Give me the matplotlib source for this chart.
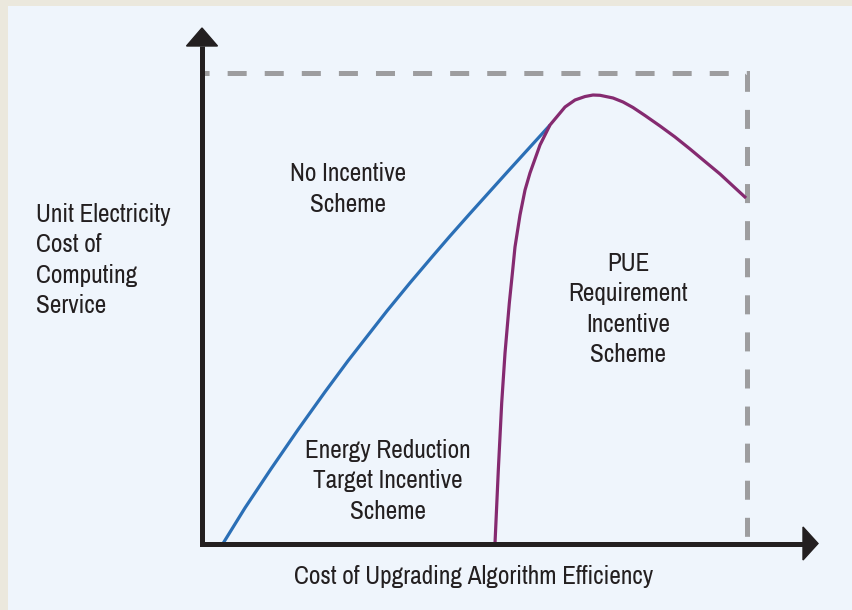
import os
import matplotlib
matplotlib.use("Agg")
import matplotlib.pyplot as plt
from matplotlib.patches import Rectangle, Polygon
from matplotlib import font_manager as fm

plt.rcParams['lines.scale_dashes'] = False

# Curve data (x: cost of upgrading, y: unit electricity cost), normalised 0..1
blue_x = [0.0385, 0.0789, 0.1266, 0.1761, 0.2257, 0.2679, 0.3394, 0.3817, 0.4239,
          0.4550, 0.4917, 0.5596, 0.6385]
blue_y = [0.0, 0.0756, 0.1584, 0.2416, 0.3219, 0.3879, 0.4938, 0.5535, 0.6110,
          0.6527, 0.7006, 0.7879, 0.8883]

purple_x = [0.5376, 0.5437, 0.5499, 0.5560, 0.5639, 0.5701, 0.5743, 0.5835, 0.5927,
            0.6018, 0.6202, 0.6385, 0.6569, 0.6661, 0.6844, 0.7028, 0.7174, 0.7303,
            0.7541, 0.7725, 0.7908, 0.8128, 0.8404, 0.8679, 0.8954, 0.9229, 0.9505,
            0.9743, 0.9982]
purple_y = [0.0, 0.156, 0.2983, 0.4045, 0.5106, 0.5807, 0.6295, 0.6975, 0.7505,
            0.7866, 0.8461, 0.8885, 0.9140, 0.9268, 0.9416, 0.9490, 0.9522, 0.9516,
            0.9459, 0.9374, 0.9257, 0.9087, 0.8864, 0.8631, 0.8376, 0.8110, 0.7845,
            0.7590, 0.7335]

box_x = [0.0, 1.0, 1.0]
box_y = [1.0, 1.0, 0.0]

y_label = "Unit Electricity\nCost of\nComputing\nService"
x_label = "Cost of Upgrading Algorithm Efficiency"
region_labels = ["No Incentive\nScheme", "PUE\nRequirement\nIncentive\nScheme",
                 "Energy Reduction\nTarget Incentive\nScheme"]

# pick a narrow/condensed regular font if one is installed
def find_narrow():
    prefs = []
    for f in fm.fontManager.ttflist:
        base = os.path.basename(f.fname).lower()
        name = f.name.lower()
        if f.weight not in (400, 'normal', 'regular', 'book'):
            continue
        if f.style != 'normal':
            continue
        key = None
        if 'narrow' in base or 'narrow' in name:
            key = 0
        elif 'condensed' in base or 'condensed' in name:
            if any(w in base for w in ('semi', 'extra', 'light', 'bold', 'medium',
                                       'thin', 'black')):
                continue
            key = 1
        elif f.stretch in ('condensed', 'semi-condensed') or \
                (isinstance(f.stretch, int) and f.stretch <= 400):
            key = 2
        if key is not None:
            prefs.append((key, f.fname))
    prefs.sort()
    return prefs[0][1] if prefs else None

narrow = find_narrow()
if narrow:
    fp = fm.FontProperties(fname=narrow)
    fs = 18.2
else:
    fp = fm.FontProperties(family='DejaVu Sans')
    fs = 13.5

W, H = 852, 610
fig = plt.figure(figsize=(W / 100, H / 100), dpi=100)
fig.patch.set_facecolor('#ebe8dd')
fig.patches.append(Rectangle((8 / W, 0), 1 - 8 / W, 1 - 6 / H, transform=fig.transFigure,
                             facecolor='#eff5fc', edgecolor='none', zorder=-5))

ox, oy = 202, 543.5
sx, sy = 545, 471
ax = fig.add_axes([ox / W, (H - oy) / H, sx / W, sy / H])
ax.set_zorder(2)
ax.set_xlim(0, 1)
ax.set_ylim(0, 1)
ax.axis('off')

# dashed box
ax.plot(box_x, box_y, color='#9d9d9f', lw=3.6, linestyle=(8.6, (13.7, 13.0)),
        dash_capstyle='butt', solid_joinstyle='miter', dash_joinstyle='miter',
        clip_on=False, zorder=1)

# curves
ax.plot(blue_x, blue_y, color='#2b6fb6', lw=2.3, clip_on=False, zorder=3,
        solid_capstyle='butt', solid_joinstyle='round')
ax.plot(purple_x, purple_y, color='#852a70', lw=2.3, clip_on=False, zorder=4,
        solid_capstyle='butt', solid_joinstyle='round')

# axes with arrows
axc = '#231f20'
ytop = (oy - 46) / sy
xend = (803 - ox) / sx
ax.plot([0, 0, xend], [ytop, 0, 0], color=axc, lw=3.6, solid_joinstyle='miter',
        solid_capstyle='butt', clip_on=False, zorder=5)
ax.add_patch(Polygon([[-15.5 / sx, ytop], [15.5 / sx, ytop], [0, (oy - 28) / sy]],
                     closed=True, color=axc, clip_on=False, zorder=5))
ax.add_patch(Polygon([[xend, 16.5 / sy], [xend, -16.5 / sy], [(818 - ox) / sx, 0]],
                     closed=True, color=axc, clip_on=False, zorder=5))

tc = '#231f20'
def px(x, y):
    return x / W, 1 - y / H

kw = dict(fontproperties=fp, fontsize=fs, color=tc, linespacing=1.38, zorder=6)
fig.text(*px(36, 260), y_label, ha='left', va='center', **kw)
fig.text(*px(348, 189), region_labels[0], ha='center', va='center', **kw)
fig.text(*px(628, 309), region_labels[1], ha='center', va='center', **kw)
fig.text(*px(388, 481), region_labels[2], ha='center', va='center', **kw)
fig.text(*px(474, 576), x_label, ha='center', va='center', **kw)

fig.savefig('out.png', dpi=100, facecolor=fig.get_facecolor())
